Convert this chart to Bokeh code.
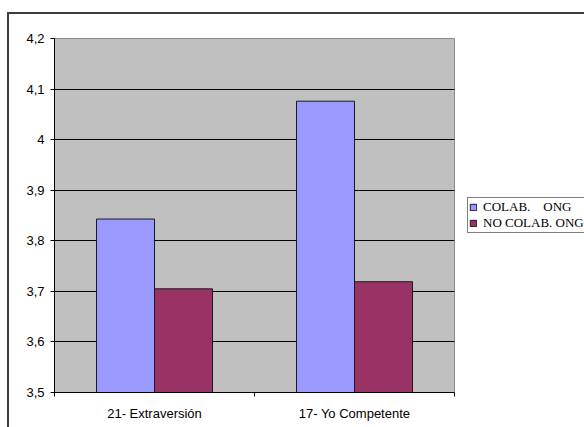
from bokeh.plotting import figure
from bokeh.layouts import row
from bokeh.models import (FixedTicker, CustomJSTickFormatter, Legend, LegendItem)
from bokeh.embed import file_html
from bokeh.resources import INLINE

# Data
categories = ["21- Extraversión", "17- Yo Competente"]
series_names = ["COLAB.\u00a0\u00a0\u00a0 ONG", "NO COLAB. ONG"]
colab = [3.843, 4.076]
no_colab = [3.705, 3.719]
y_ticks = [3.5, 3.6, 3.7, 3.8, 3.9, 4.0, 4.1, 4.2]

BLUE = "#9999FF"
PLUM = "#993366"
EDGE = "#1a1a1a"
BAR_W = 0.29

p = figure(width=446, height=413, output_backend="svg", toolbar_location=None,
           x_range=(0, len(categories)), y_range=(3.5, 4.2),
           min_border_left=45, min_border_right=1, min_border_top=24,
           min_border_bottom=35)

p.background_fill_color = "#C0C0C0"
p.border_fill_color = "white"
p.outline_line_color = "#8c8c8c"
p.outline_line_width = 1

idx = list(range(len(categories)))
x_colab = [i + 0.5 - BAR_W / 2 for i in idx]
x_no = [i + 0.5 + BAR_W / 2 for i in idx]

bar_style = dict(bottom=3.5, width=BAR_W, line_color=EDGE, line_width=1)
p.vbar(x=x_colab, top=colab, fill_color=BLUE, **bar_style)
p.vbar(x=x_no, top=no_colab, fill_color=PLUM, **bar_style)

# Grid
p.xgrid.visible = False
p.ygrid.ticker = FixedTicker(ticks=y_ticks[1:-1])
p.ygrid.grid_line_color = "black"
p.ygrid.grid_line_width = 1

# Y axis
p.yaxis.ticker = FixedTicker(ticks=y_ticks)
p.yaxis.formatter = CustomJSTickFormatter(
    code="return (Math.round(tick*10)/10).toString().replace('.', ',');")
p.yaxis.axis_line_color = "black"
p.yaxis.major_tick_line_color = "black"
p.yaxis.major_tick_out = 4
p.yaxis.major_tick_in = 0
p.yaxis.minor_tick_line_color = None
p.yaxis.major_label_standoff = 6
p.yaxis.major_label_text_font = "Liberation Sans"
p.yaxis.major_label_text_font_size = "13px"
p.yaxis.major_label_text_color = "black"

# X axis: labels at group centres, tick marks at group boundaries
p.xaxis.ticker = FixedTicker(ticks=[i + 0.5 for i in idx],
                             minor_ticks=list(range(len(categories) + 1)))
p.xaxis.formatter = CustomJSTickFormatter(
    args=dict(labels=categories), code="return labels[Math.floor(tick)];")
p.xaxis.axis_line_color = "black"
p.xaxis.major_tick_line_color = None
p.xaxis.minor_tick_line_color = "black"
p.xaxis.minor_tick_out = 4
p.xaxis.minor_tick_in = 0
p.xaxis.major_label_standoff = 7
p.xaxis.major_label_text_font = "Liberation Sans"
p.xaxis.major_label_text_font_size = "13px"
p.xaxis.major_label_text_color = "black"

# Legend panel to the right of the plot area; the keys are hidden copies
# of the two bar series, used only for their swatches
side = figure(width=129, height=413, output_backend="svg", toolbar_location=None,
              x_range=(0, len(categories)), y_range=(3.5, 4.2), min_border=0)
side.axis.visible = False
side.grid.visible = False
side.outline_line_color = None
side.background_fill_color = "white"
side.border_fill_color = "white"
k1 = side.vbar(x=x_colab, top=colab, fill_color=BLUE, visible=False, **bar_style)
k2 = side.vbar(x=x_no, top=no_colab, fill_color=PLUM, visible=False, **bar_style)

legend = Legend(items=[LegendItem(label=series_names[0], renderers=[k1]),
                       LegendItem(label=series_names[1], renderers=[k2])],
                location=(12, 159), orientation="vertical")
legend.label_text_font = "Liberation Serif"
legend.label_text_font_size = "13px"
legend.label_text_color = "black"
legend.label_standoff = 6
legend.glyph_width = 8
legend.glyph_height = 8
legend.label_height = 14
legend.spacing = 0
legend.padding = 1
legend.margin = 0
legend.border_line_color = "black"
legend.border_line_width = 1
legend.background_fill_color = "white"
legend.background_fill_alpha = 1
side.add_layout(legend, "center")

# Outer chart border (left and top edges fall inside the window)
chart = row(p, side, spacing=0,
            styles={"margin-left": "7px", "margin-top": "12px",
                    "border-left": "2px solid #3c3c3c",
                    "border-top": "2px solid #3c3c3c"})

open("out.html", "w").write(file_html(chart, INLINE))
